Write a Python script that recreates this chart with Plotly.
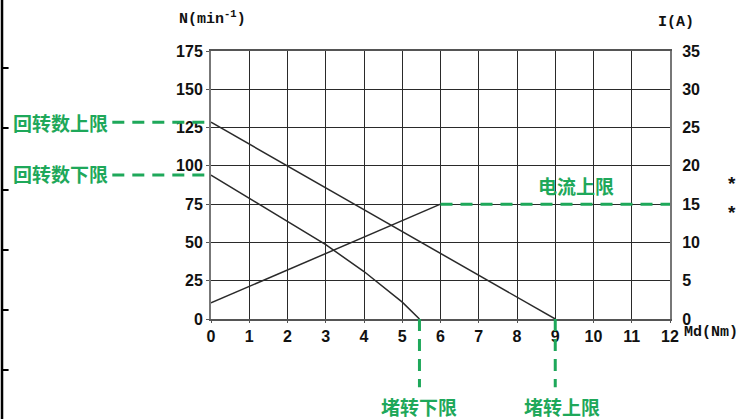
import plotly.graph_objects as go

# ---- data ----
x_ticks = list(range(0, 13))
n_ticks = [0, 25, 50, 75, 100, 125, 150, 175]
i_ticks = [0, 5, 10, 15, 20, 25, 30, 35]

torque_upper = [0, 9]
speed_upper = [128.5, 0]

torque_lower = [0, 1, 2, 3, 4, 5, 5.45]
speed_lower = [94, 79, 64, 48.5, 31, 11, 0]

torque_current = [0, 6]
current = [2.1, 15]

speed_upper_limit = 128.5
speed_lower_limit = 94
stall_lower = 5.45
stall_upper = 9
current_limit = 15
current_limit_range = [6, 12]

GREEN = "#1ea85a"
LINE = "#2a2a2a"
NUM_FONT = "Liberation Sans, Arial, sans-serif"
MONO_FONT = "Liberation Mono, DejaVu Sans Mono, monospace"
CJK_FONT = "Noto Sans CJK SC, sans-serif"

fig = go.Figure()
fig.add_trace(go.Scatter(x=torque_upper, y=speed_upper, mode="lines",
                         line=dict(color=LINE, width=1.5), showlegend=False))
fig.add_trace(go.Scatter(x=torque_lower, y=speed_lower, mode="lines",
                         line=dict(color=LINE, width=1.5), showlegend=False))
fig.add_trace(go.Scatter(x=torque_current, y=current, mode="lines", yaxis="y2",
                         line=dict(color=LINE, width=1.5), showlegend=False))

dash = "12px,8px"
shapes = []
# horizontal speed limits extending to the labels on the left
for v in (speed_upper_limit, speed_lower_limit):
    shapes.append(dict(type="line", xref="paper", yref="y", x0=-0.215, x1=0.0,
                       y0=v, y1=v, line=dict(color=GREEN, width=3, dash=dash)))
# vertical stall limits extending below the axis
for v in (stall_lower, stall_upper):
    shapes.append(dict(type="line", xref="x", yref="paper", x0=v, x1=v,
                       y0=0.0, y1=-0.255, line=dict(color=GREEN, width=3, dash=dash)))
# current limit
shapes.append(dict(type="line", xref="x", yref="y2", x0=current_limit_range[0],
                   x1=current_limit_range[1], y0=current_limit, y1=current_limit,
                   line=dict(color=GREEN, width=3, dash=dash)))
# left border decoration of the source page
shapes.append(dict(type="line", xref="paper", yref="paper", x0=-0.4553, x1=-0.4553,
                   y0=-0.38, y1=1.2, line=dict(color="black", width=2.5)))
for py in (68, 128, 190, 250, 310, 370):
    yp = (319 - py) / 268
    shapes.append(dict(type="line", xref="paper", yref="paper", x0=-0.4553, x1=-0.441,
                       y0=yp, y1=yp, line=dict(color="black", width=2)))

ann = []
def label(text, x, y, xref, yref, xanchor="center", size=19, color=GREEN,
          family=CJK_FONT, weight="bold"):
    ann.append(dict(text=text, x=x, y=y, xref=xref, yref=yref, showarrow=False,
                    xanchor=xanchor, yanchor="middle",
                    font=dict(family=family, size=size, color=color, weight=weight)))

label("回转数上限", -0.22, speed_upper_limit, "paper", "y", xanchor="right")
label("回转数下限", -0.22, speed_lower_limit + 1, "paper", "y", xanchor="right")
label("电流上限", 9.55, 17.4, "x", "y2")
label("堵转下限", stall_lower, -0.325, "x", "paper")
label("堵转上限", stall_upper + 0.17, -0.325, "x", "paper")
label("N(min<sup>-1</sup>)", 0.004, 1.123, "paper", "paper", size=15,
      color="#111", family=MONO_FONT)
label("I(A)", 1.012, 1.108, "paper", "paper", size=15, color="#111", family=MONO_FONT)
label("Md(Nm)", 1.026, -0.052, "paper", "paper", xanchor="left", size=15,
      color="#111", family=MONO_FONT)
label("*", 1.135, 0.505, "paper", "paper", size=19, color="#111", family=NUM_FONT)
label("*", 1.135, 0.397, "paper", "paper", size=19, color="#111", family=NUM_FONT)

tickfont = dict(family=NUM_FONT, size=16, color="#111", weight="bold")

fig.update_layout(
    width=738, height=419, autosize=False,
    margin=dict(l=211, r=68, t=51, b=100),
    paper_bgcolor="white", plot_bgcolor="white",
    shapes=shapes, annotations=ann,
    xaxis=dict(range=[0, 12], tickvals=x_ticks, showgrid=True, gridcolor=LINE,
               gridwidth=1.4, zeroline=False, showline=True, mirror=True,
               linecolor="#555", linewidth=1.6, ticks="outside", ticklen=2,
               tickcolor="#555", tickfont=tickfont, automargin=False),
    yaxis=dict(range=[0, 175], tickvals=n_ticks, showgrid=True, gridcolor=LINE,
               gridwidth=1.4, zeroline=False, showline=True, mirror=True,
               linecolor="#777", linewidth=2, ticks="outside", ticklen=3,
               tickcolor="#555", tickfont=tickfont, automargin=False),
    yaxis2=dict(range=[0, 35], tickvals=i_ticks, overlaying="y", side="right",
                showgrid=False, zeroline=False, showline=False, ticks="outside",
                ticklen=8, tickcolor="rgba(0,0,0,0)", tickfont=tickfont,
                automargin=False),
)

# remove the page's default body margin so the figure fills the window exactly
fig.write_html("out.html", config={"displayModeBar": False},
               post_script="document.body.style.margin='0';document.body.style.overflow='hidden';")
